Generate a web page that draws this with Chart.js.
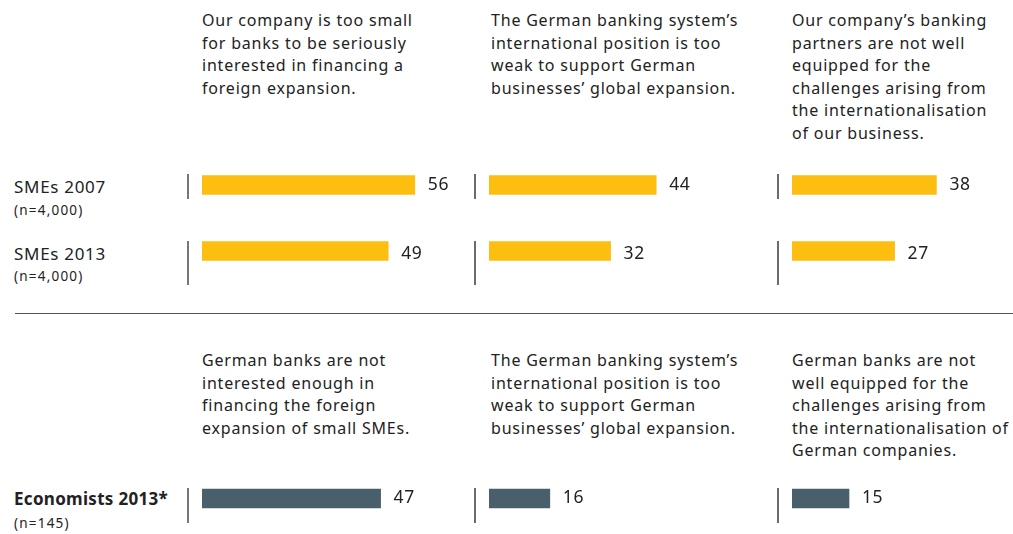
<!DOCTYPE html>
<html>
<head>
<meta charset="utf-8">
<script src="https://cdn.jsdelivr.net/npm/chart.js@4.4.0/dist/chart.umd.min.js"></script>
<style>
    html, body { margin: 0; padding: 0; background: #fff; }
    body { width: 1013px; height: 534px; position: relative; overflow: hidden;
           font-family: "Noto Sans", "Open Sans", sans-serif; color: #222; }
    .q { position: absolute; font-size: 16px; line-height: 22.5px; letter-spacing: 0.8px; white-space: nowrap; }
    .row { position: absolute; left: 14px; font-size: 17px; line-height: 20px; letter-spacing: 0.7px; white-space: nowrap; }
    .row.bold { font-weight: bold; letter-spacing: 0.3px; }
    .n { position: absolute; left: 14px; font-size: 13.5px; line-height: 16px; letter-spacing: 1.2px; white-space: nowrap; }
    .sep { position: absolute; left: 15px; top: 313px; width: 998px; height: 0; border-top: 1.5px solid #555; }
    canvas { position: absolute; }
</style>
</head>
<body>
<div id="texts"></div>
<div class="sep"></div>
<canvas id="sme0"></canvas>
<canvas id="sme1"></canvas>
<canvas id="sme2"></canvas>
<canvas id="eco0"></canvas>
<canvas id="eco1"></canvas>
<canvas id="eco2"></canvas>
<script>
// Daten
const smeQuestions = [
    ['Our company is too small', 'for banks to be seriously', 'interested in financing a', 'foreign expansion.'],
    ['The German banking system\u2019s', 'international position is too', 'weak to support German', 'businesses\u2019 global expansion.'],
    ['Our company\u2019s banking', 'partners are not well', 'equipped for the', 'challenges arising from', 'the internationalisation', 'of our business.']
];
const econQuestions = [
    ['German banks are not', 'interested enough in', 'financing the foreign', 'expansion of small SMEs.'],
    ['The German banking system\u2019s', 'international position is too', 'weak to support German', 'businesses\u2019 global expansion.'],
    ['German banks are not', 'well equipped for the', 'challenges arising from', 'the internationalisation of', 'German companies.']
];
const smeRows = ['SMEs 2007', 'SMEs 2013'];
const smeN = ['(n=4,000)', '(n=4,000)'];
const econRows = ['Economists 2013*'];
const econN = ['(n=145)'];

const sme2007 = [56, 44, 38];
const sme2013 = [49, 32, 27];
const econ2013 = [47, 16, 15];

// Layout
const PX_PER_UNIT = 3.8;
const colBarStart = [202, 489, 792];
const colTextLeft = [202, 491, 792];
const canvasW = [280, 280, 237];
const PAD_L = 16;
const YELLOW = '#fdbe10';
const SLATE = '#4a5f6c';

// Texte
const texts = document.getElementById('texts');
function addDiv(cls, html, left, top) {
    const d = document.createElement('div');
    d.className = cls;
    d.innerHTML = html;
    d.style.left = left + 'px';
    d.style.top = top + 'px';
    texts.appendChild(d);
}
smeQuestions.forEach((lines, i) => addDiv('q', lines.join('<br>'), colTextLeft[i], 9));
econQuestions.forEach((lines, i) => addDiv('q', lines.join('<br>'), colTextLeft[i], 349));
addDiv('row', smeRows[0], 14, 177);
addDiv('n', smeN[0], 14, 202);
addDiv('row', smeRows[1], 14, 244);
addDiv('n', smeN[1], 14, 268);
addDiv('row bold', econRows[0], 14, 489);
addDiv('n', econN[0], 14, 515);

// Plugins
const axisSegments = {
    id: 'axisSegments',
    beforeDatasetsDraw(chart, args, opts) {
        const ctx = chart.ctx;
        const meta = chart.getDatasetMeta(0);
        const x = chart.chartArea.left - 14;
        ctx.save();
        ctx.strokeStyle = opts.color;
        ctx.lineWidth = opts.width;
        meta.data.forEach((bar, i) => {
            const seg = opts.segments[i];
            ctx.beginPath();
            ctx.moveTo(x, bar.y + seg[0]);
            ctx.lineTo(x, bar.y + seg[1]);
            ctx.stroke();
        });
        ctx.restore();
    }
};

const valueLabels = {
    id: 'valueLabels',
    afterDatasetsDraw(chart, args, opts) {
        const ctx = chart.ctx;
        const meta = chart.getDatasetMeta(0);
        const data = chart.data.datasets[0].data;
        ctx.save();
        ctx.fillStyle = '#222';
        ctx.font = '17.5px "Noto Sans", "Open Sans", sans-serif';
        ctx.letterSpacing = '0.6px';
        ctx.textBaseline = 'middle';
        ctx.textAlign = 'left';
        meta.data.forEach((bar, i) => {
            ctx.fillText(data[i], bar.x + 13, bar.y + opts.dy[i]);
        });
        ctx.restore();
    }
};

function makeChart(id, left, top, width, height, padBottom, labels, values, color, lineColor, lineWidth, segments, dy) {
    const cv = document.getElementById(id);
    cv.width = width;
    cv.height = height;
    cv.style.left = left + 'px';
    cv.style.top = top + 'px';
    return new Chart(cv, {
        type: 'bar',
        data: {
            labels: labels,
            datasets: [{
                data: values,
                backgroundColor: color,
                borderWidth: 0,
                barThickness: 19
            }]
        },
        options: {
            indexAxis: 'y',
            responsive: false,
            animation: false,
            layout: { padding: { left: PAD_L, right: 0, top: 0, bottom: padBottom } },
            plugins: {
                legend: { display: false },
                tooltip: { enabled: false },
                axisSegments: { color: lineColor, width: lineWidth, segments: segments },
                valueLabels: { dy: dy }
            },
            scales: {
                x: { display: false, min: 0, max: (width - PAD_L) / PX_PER_UNIT },
                y: { display: false }
            }
        },
        plugins: [axisSegments, valueLabels]
    });
}

const lineColors = ['#777', '#3a3a3a', '#3a3a3a'];
const lineWidths = [2, 1.5, 1.5];

for (let i = 0; i < 3; i++) {
    makeChart('sme' + i, colBarStart[i] - PAD_L, 152, canvasW[i], 134, 2,
        smeRows, [sme2007[i], sme2013[i]], YELLOW, lineColors[i], lineWidths[i],
        [[-11, 14], [-10, 34]], [0, 3]);
    makeChart('eco' + i, colBarStart[i] - PAD_L, 488, canvasW[i], 36, 15,
        econRows, [econ2013[i]], SLATE, lineColors[i], lineWidths[i],
        [[-10.5, 24.5]], [0]);
}
</script>
</body>
</html>
